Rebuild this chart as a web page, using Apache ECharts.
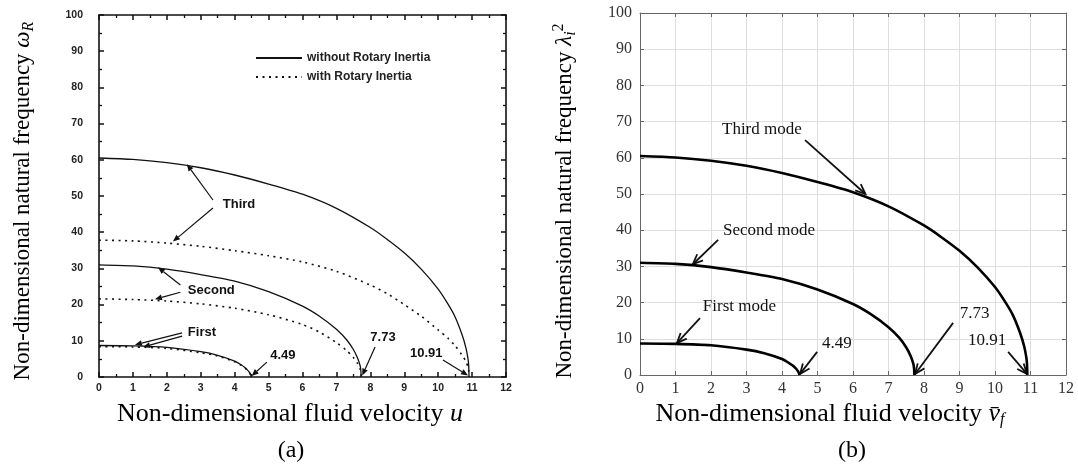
<!DOCTYPE html>
<html>
<head>
<meta charset="utf-8">
<script src="https://cdn.jsdelivr.net/npm/echarts@6/dist/echarts.min.js"></script>
<style>
    html, body { margin: 0; padding: 0; background: #fff; }
    #chart { width: 1078px; height: 465px; }
</style>
</head>
<body>
<div id="chart"></div>
<script>
// values (u = fluid velocity, w = frequency)
const u1 = [0, 1, 2, 3, 3.5, 4, 4.2, 4.3, 4.38, 4.44, 4.47, 4.49];
const w1 = [8.7, 8.6, 8.2, 7.0, 6.0, 4.4, 3.3, 2.6, 1.9, 1.2, 0.7, 0];
const w1RI = [8.4, 8.3, 7.9, 6.7, 5.8, 4.2, 3.2, 2.5, 1.8, 1.1, 0.6, 0];

const u2 = [0, 1, 2, 3, 4, 5, 6, 6.5, 7, 7.3, 7.5, 7.62, 7.7, 7.72, 7.73];
const w2 = [31.0, 30.7, 29.8, 28.3, 26.5, 23.6, 19.6, 16.8, 13.2, 10.3, 7.6, 5.3, 3.1, 1.8, 0];
const w2RI = [21.6, 21.4, 21.0, 20.2, 19.0, 17.2, 14.5, 12.4, 9.5, 7.3, 5.4, 3.8, 2.2, 1.3, 0];

const u3 = [0, 1, 2, 3, 4, 5, 6, 7, 8, 8.5, 9, 9.5, 10, 10.3, 10.5, 10.7, 10.82, 10.88, 10.9, 10.91];
const w3 = [60.5, 60.1, 59.2, 57.8, 55.8, 53.3, 50.5, 46.6, 41.3, 38.0, 34.3, 29.8, 24.3, 20.0, 16.6, 11.8, 8.0, 5.0, 3.2, 0];
const w3RI = [37.8, 37.6, 37.0, 36.1, 34.9, 33.5, 31.8, 29.2, 25.4, 23.0, 20.0, 16.8, 13.0, 10.6, 8.6, 6.1, 4.3, 2.7, 1.8, 0];

const legendNames = ["without Rotary Inertia", "with Rotary Inertia"];

// annotations, in data units: label anchor + arrows [from, to]
const notesA = [
    { text: "Third", at: [3.65, 47.6], arrows: [[[3.36, 48.9], [2.59, 58.8]], [[3.36, 46.7], [2.18, 37.4]]] },
    { text: "Second", at: [2.62, 24.0], arrows: [[[2.4, 25.4], [1.74, 30.3]], [[2.4, 23.4], [1.65, 21.5]]] },
    { text: "First", at: [2.62, 12.4], arrows: [[[2.45, 12.2], [1.06, 8.9]], [[2.45, 11.3], [1.3, 8.3]]] },
    { text: "4.49", at: [5.05, 5.9], arrows: [[[4.95, 4.1], [4.5, 0.3]]] },
    { text: "7.73", at: [8.0, 10.8], arrows: [[[8.14, 8.3], [7.76, 0.4]]] },
    { text: "10.91", at: [9.17, 6.6], arrows: [[[10.14, 4.7], [10.88, 0.4]]] },
];
const notesB = [
    { text: "Third mode", at: [2.31, 67.7], arrows: [[[4.65, 64.9], [6.35, 50.0]]] },
    { text: "Second mode", at: [2.34, 39.9], arrows: [[[2.2, 37.3], [1.49, 30.6]]] },
    { text: "First mode", at: [1.77, 18.8], arrows: [[[1.69, 15.7], [1.04, 8.8]]] },
    { text: "4.49", at: [5.13, 8.6], arrows: [[[4.99, 6.4], [4.51, 0.3]]] },
    { text: "7.73", at: [9.01, 17.1], arrows: [[[8.82, 14.4], [7.75, 0.3]]] },
    { text: "10.91", at: [9.24, 9.4], arrows: [[[10.37, 6.4], [10.9, 0.3]]] },
];

const zip = (xs, ys) => xs.map((x, i) => [x, ys[i]]);

const SANS = "Liberation Sans";
const SERIF = "Liberation Serif";

const isY = pos => pos === "left" || pos === "right";

const axisA = (pos, labels) => ({
    gridIndex: 0, type: "value", position: pos,
    min: 0,
    max: isY(pos) ? 100 : 12,
    interval: isY(pos) ? 10 : 1,
    axisLine: { show: true, onZero: false, lineStyle: { color: "#111", width: 1.6 } },
    axisTick: { show: true, inside: true, length: 5, lineStyle: { color: "#111", width: 1.5 } },
    minorTick: { show: true, splitNumber: 2, length: 3, lineStyle: { color: "#111", width: 1.3 } },
    splitLine: { show: false },
    axisLabel: {
        show: labels, fontFamily: SANS, fontWeight: "bold", fontSize: 10.5, color: "#222",
        margin: pos === "left" ? 16 : 6,
    },
});

const axisB = (pos, labels) => ({
    gridIndex: 1, type: "value", position: pos,
    min: 0,
    max: isY(pos) ? 100 : 12,
    interval: isY(pos) ? 10 : 1,
    axisLine: { show: true, onZero: false, lineStyle: { color: "#666", width: 1 } },
    axisTick: { show: true, inside: true, length: 4, lineStyle: { color: "#666" } },
    splitLine: { show: labels, lineStyle: { color: "#dedede", width: 1 } },
    axisLabel: {
        show: labels, fontFamily: SERIF, fontSize: 16, color: "#333",
        margin: pos === "left" ? 8 : 6,
    },
});

const lineA = (name, data, dotted) => ({
    name: name, type: "line", xAxisIndex: 0, yAxisIndex: 0,
    data: data, showSymbol: false, symbol: "none", smooth: 0.25,
    lineStyle: { color: "#111", width: dotted ? 1.6 : 1.3, type: dotted ? [2, 4.5] : "solid" },
    itemStyle: { color: "#111" },
});

const lineB = (name, data) => ({
    name: name, type: "line", xAxisIndex: 2, yAxisIndex: 2,
    data: data, showSymbol: false, symbol: "none", smooth: 0.25,
    lineStyle: { color: "#000", width: 2.6 },
});

const option = {
    animation: false,
    backgroundColor: "#fff",
    grid: [
        { left: 99, top: 15, width: 407, height: 362 },
        { left: 640, top: 13, width: 426, height: 362 },
    ],
    xAxis: [axisA("bottom", true), axisA("top", false), axisB("bottom", true), axisB("top", false)],
    yAxis: [axisA("left", true), axisA("right", false), axisB("left", true), axisB("right", false)],
    legend: {
        data: legendNames,
        orient: "vertical",
        left: 250, top: 47,
        itemWidth: 46, itemHeight: 12, itemGap: 7,
        itemStyle: { opacity: 0 },
        textStyle: { fontFamily: SANS, fontWeight: "bold", fontSize: 12, color: "#222" },
    },
    series: [
        lineA(legendNames[0], zip(u3, w3), false),
        lineA(legendNames[1], zip(u3, w3RI), true),
        lineA(legendNames[0], zip(u2, w2), false),
        lineA(legendNames[1], zip(u2, w2RI), true),
        lineA(legendNames[0], zip(u1, w1), false),
        lineA(legendNames[1], zip(u1, w1RI), true),
        lineB("Third mode", zip(u3, w3)),
        lineB("Second mode", zip(u2, w2)),
        lineB("First mode", zip(u1, w1)),
    ],
};

const chart = echarts.init(document.getElementById("chart"));
chart.setOption(option);

function arrow(p, q, open, size, width) {
    const dx = q[0] - p[0], dy = q[1] - p[1];
    const len = Math.hypot(dx, dy);
    const ux = dx / len, uy = dy / len;
    const w = size * 0.42;
    const b = [q[0] - ux * size, q[1] - uy * size];
    const l = [b[0] - uy * w, b[1] + ux * w];
    const r = [b[0] + uy * w, b[1] - ux * w];
    const out = [{
        type: "line", silent: true,
        shape: { x1: p[0], y1: p[1], x2: open ? q[0] : b[0], y2: open ? q[1] : b[1] },
        style: { stroke: "#111", lineWidth: width },
    }];
    if (open) {
        out.push({ type: "polyline", silent: true, shape: { points: [l, q, r] },
            style: { stroke: "#111", lineWidth: width, fill: null } });
    } else {
        out.push({ type: "polygon", silent: true, shape: { points: [l, q, r] },
            style: { fill: "#111" } });
    }
    return out;
}

function notes(list, gridIndex, font, open, size, width) {
    const els = [];
    list.forEach(n => {
        const at = chart.convertToPixel({ gridIndex: gridIndex }, n.at);
        els.push({ type: "text", silent: true, x: at[0], y: at[1],
            style: Object.assign({ text: n.text, align: "left", verticalAlign: "middle", fill: "#111" }, font) });
        n.arrows.forEach(a => {
            const p = chart.convertToPixel({ gridIndex: gridIndex }, a[0]);
            const q = chart.convertToPixel({ gridIndex: gridIndex }, a[1]);
            arrow(p, q, open, size, width).forEach(e => els.push(e));
        });
    });
    return els;
}

const richOf = size => ({
    t: { fontFamily: SERIF, fontSize: size, fill: "#000" },
    m: { fontFamily: SERIF, fontSize: size, fontStyle: "italic", fill: "#000" },
    sub: { fontFamily: SERIF, fontSize: 16, fontStyle: "italic", fill: "#000", padding: [12, 0, 0, 0] },
    sup: { fontFamily: SERIF, fontSize: 16, fill: "#000", padding: [0, 0, 12, 0] },
});

const titles = [
    { type: "text", silent: true, x: 23, y: 201, rotation: Math.PI / 2,
        style: { text: "{t|Non-dimensional natural frequency }{m|ω}{sub|R}", rich: richOf(23), align: "center", verticalAlign: "middle" } },
    { type: "text", silent: true, x: 565, y: 201, rotation: Math.PI / 2,
        style: { text: "{t|Non-dimensional natural frequency }{m|λ}{sub|i}{sup|2}", rich: richOf(23), align: "center", verticalAlign: "middle" } },
    { type: "text", silent: true, x: 290, y: 414,
        style: { text: "{t|Non-dimensional fluid velocity }{m|u}", rich: richOf(26), align: "center", verticalAlign: "middle" } },
    { type: "text", silent: true, x: 830, y: 414,
        style: { text: "{t|Non-dimensional fluid velocity }{m|v\u0304}{sub|f}", rich: richOf(26), align: "center", verticalAlign: "middle" } },
    { type: "text", silent: true, x: 291, y: 451,
        style: { text: "(a)", fontFamily: SERIF, fontSize: 24, fill: "#000", align: "center", verticalAlign: "middle" } },
    { type: "text", silent: true, x: 852, y: 451,
        style: { text: "(b)", fontFamily: SERIF, fontSize: 24, fill: "#000", align: "center", verticalAlign: "middle" } },
];

chart.setOption({
    graphic: titles
        .concat(notes(notesA, 0, { fontFamily: SANS, fontWeight: "bold", fontSize: 13 }, false, 7, 1.2))
        .concat(notes(notesB, 1, { fontFamily: SERIF, fontSize: 17 }, true, 10, 1.8)),
});
</script>
</body>
</html>
